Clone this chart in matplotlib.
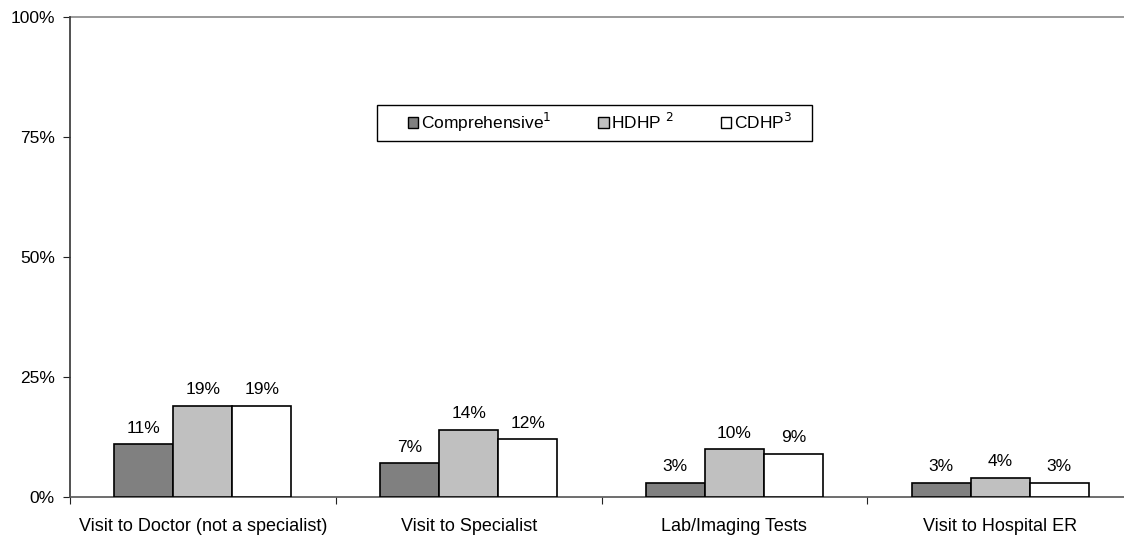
import numpy as np
import matplotlib.pyplot as plt
from matplotlib.patches import Patch, Rectangle

plt.rcParams['font.family'] = ['Liberation Sans', 'DejaVu Sans']
plt.rcParams['font.size'] = 12.5

# Data (share of respondents, %)
categories = ["Visit to Doctor (not a specialist)", "Visit to Specialist",
              "Lab/Imaging Tests", "Visit to Hospital ER"]
comprehensive = [11, 7, 3, 3]
hdhp = [19, 14, 10, 4]
cdhp = [19, 12, 9, 3]

series_names = ["Comprehensive$^{1}$", "HDHP $^{2}$", "CDHP$^{3}$"]
series_colors = ["#808080", "#c0c0c0", "#ffffff"]
series_values = [comprehensive, hdhp, cdhp]

W, H = 1124, 535
fig = plt.figure(figsize=(W / 100, H / 100), dpi=100)
ax = fig.add_axes([70 / W, 1 - 497 / H, (1133 - 70) / W, 480 / H])

x = np.arange(len(categories))
bw = 0.222
for i, (vals, col) in enumerate(zip(series_values, series_colors)):
    pos = x + (i - 1) * bw
    ax.bar(pos, vals, width=bw, color=col, edgecolor="black", linewidth=1.2,
           zorder=3)
    for p, v in zip(pos, vals):
        ax.annotate(f"{v}%", (p, v), xytext=(0, 6), textcoords="offset points",
                    ha="center", va="bottom")

ax.set_xlim(-0.5, len(categories) - 0.5)
ax.set_ylim(0, 100)
ax.set_yticks([0, 25, 50, 75, 100])
ax.set_yticklabels(["0%", "25%", "50%", "75%", "100%"])

# category labels in the middle, tick marks at category boundaries
ax.set_xticks(np.arange(len(categories) + 1) - 0.5)
ax.set_xticklabels([])
ax.set_xticks(x, minor=True)
ax.set_xticklabels(categories, minor=True, fontsize=13)
ax.tick_params(axis="x", which="minor", length=0, pad=15)
ax.tick_params(axis="x", which="major", length=5, direction="out", color="#222222")
ax.tick_params(axis="y", length=5, direction="out", color="#222222", pad=6)

for s in ["top", "right"]:
    ax.spines[s].set_visible(False)
ax.spines["left"].set_color("#333333")
ax.spines["bottom"].set_color("#555555")
ax.spines["left"].set_linewidth(1.2)
ax.spines["bottom"].set_linewidth(1.2)
ax.axhline(100, color="#888888", linewidth=1.2, clip_on=False)

# legend box drawn separately so its size matches the original
fig.patches.append(Rectangle((377 / W, 1 - 141 / H), 435 / W, 36 / H,
                             transform=fig.transFigure, facecolor="white",
                             edgecolor="black", linewidth=1.0, zorder=4))
handles = [Patch(facecolor=c, edgecolor="black", linewidth=1.0)
           for c in series_colors]
leg = fig.legend(handles, series_names, ncol=3, loc="center",
                 bbox_to_anchor=(600 / W, 1 - 122 / H),
                 frameon=False, handlelength=0.6, handleheight=0.6,
                 handletextpad=0.15, columnspacing=2.7, borderaxespad=0)
leg.set_zorder(5)

fig.savefig("out.png", dpi=100)
